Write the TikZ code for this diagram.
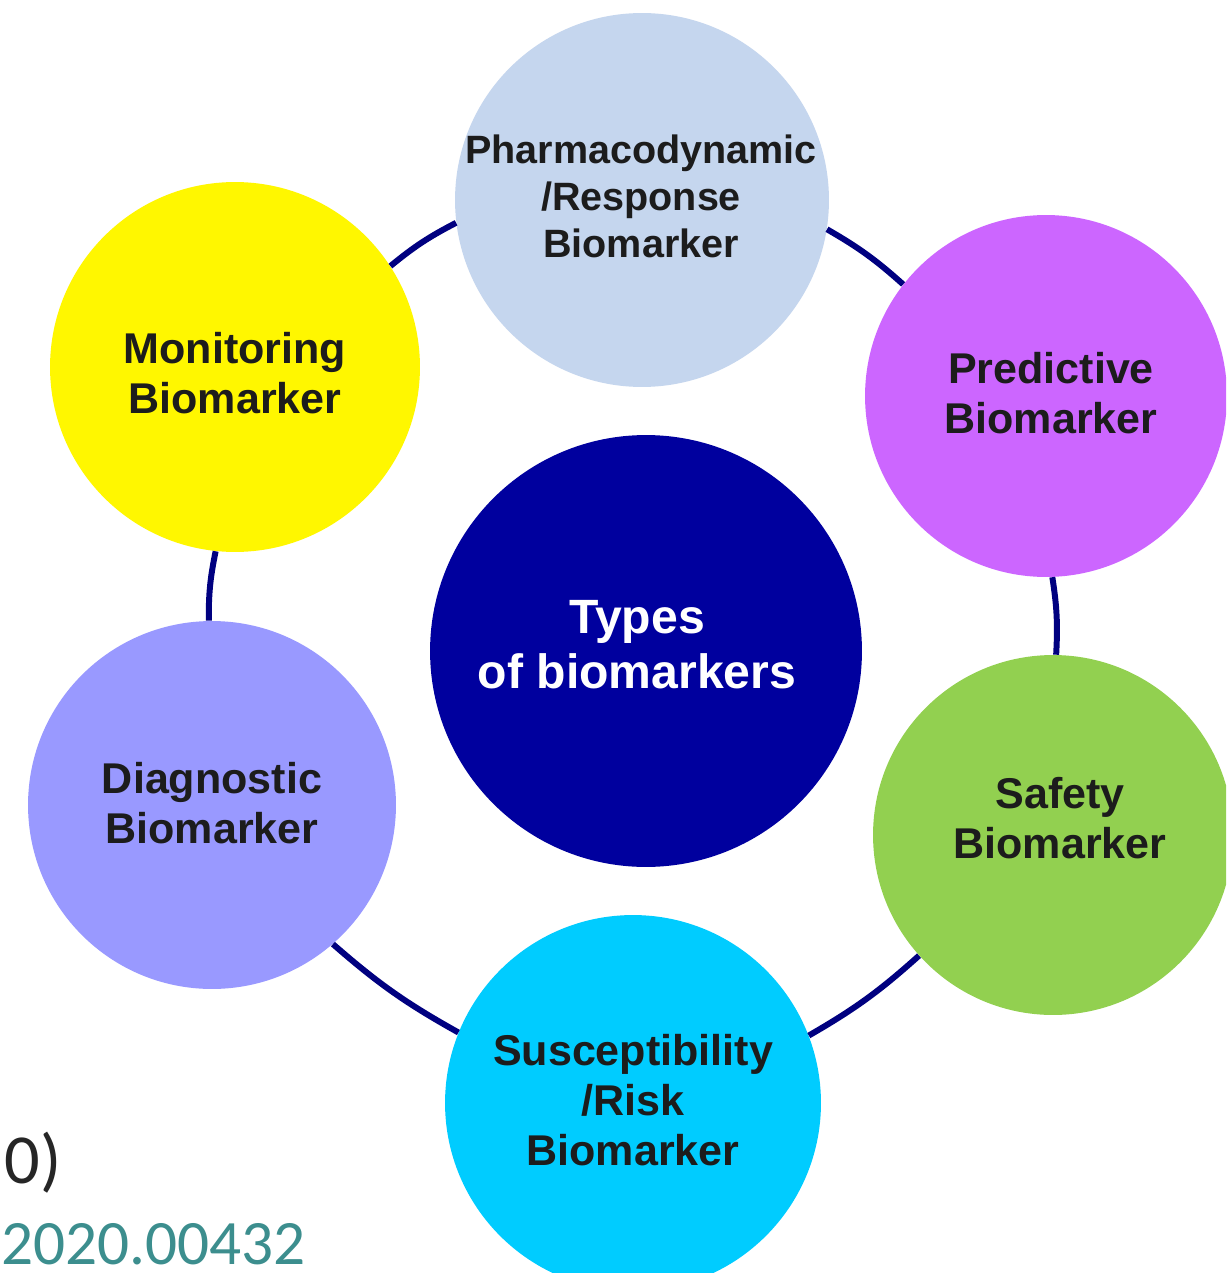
\documentclass[tikz,border=0pt]{standalone}
\usepackage{fontspec}
\setmainfont{Liberation Sans}
\newfontfamily\slidefont{Carlito}
\definecolor{txt}{HTML}{1C1C1C}
\definecolor{ringc}{HTML}{000080}
\definecolor{pharmac}{HTML}{C5D6EE}
\definecolor{monic}{HTML}{FFF700}
\definecolor{predc}{HTML}{CC66FF}
\definecolor{safec}{HTML}{92D050}
\definecolor{suscc}{HTML}{00CCFF}
\definecolor{diagc}{HTML}{9999FF}
\definecolor{centc}{HTML}{00009E}
\definecolor{tealc}{HTML}{3C8E8E}
\definecolor{darkc}{HTML}{262626}
\begin{document}
\begin{tikzpicture}[x=0.02cm,y=-0.02cm,
  bub/.style={circle, minimum size=#1, inner sep=0pt},
  lab/.style={inner sep=0pt, align=center,
    font=\fontsize{24.5}{28.5}\selectfont\bfseries, text=txt},
  link/.style={draw=ringc, line width=3.4pt, bend left=6}]
\useasboundingbox (0,0) rectangle (1226,1273);
\clip (0,0) rectangle (1226,1273);
\fill[white] (0,0) rectangle (1226,1273);
% outer bubbles
\node[bub=7.48cm, fill=pharmac] (pha) at (642,200) {};
\node[bub=7.40cm, fill=monic] (mon) at (235,367) {};
\node[bub=7.24cm, fill=predc] (pre) at (1046,396) {};
\node[bub=7.20cm, fill=safec] (saf) at (1053,835) {};
\node[bub=7.52cm, fill=suscc] (sus) at (633,1103) {};
\node[bub=7.36cm, fill=diagc] (dia) at (212,805) {};
\node[bub=8.64cm, fill=centc] (cen) at (646,651) {};
% labels
\node[lab, font=\fontsize{22.5}{26.7}\selectfont\bfseries] (phat) at (641,196) {Pharmacodynamic\\/Response\\Biomarker};
\node[lab] (mont) at (235,373) {Monitoring\\Biomarker};
\node[lab] (pret) at (1051,393) {Predictive\\Biomarker};
\node[lab] (saft) at (1060,818) {Safety\\Biomarker};
\node[lab] (sust) at (633,1100) {Susceptibility\\/Risk\\Biomarker};
\node[lab] (diat) at (212,803) {Diagnostic\\Biomarker};
\node[lab, text=white, font=\fontsize{27.4}{31.3}\selectfont\bfseries] (cent) at (637,645) {Types\\of biomarkers};
% connectors
\draw[link] (mon.33.6) to (pha.187.6);
\draw[link] (pha.-9.8) to (pre.142.9);
\draw[link] (pre.-88) to (saf.89.4);
\draw[link] (saf.-138) to (sus.21.4);
\draw[link] (sus.158.7) to (dia.-49.2);
\draw[link] (dia.91.3) to (mon.264.7);
% cropped slide text
\node[anchor=base east, inner sep=0pt, text=darkc, font=\slidefont\fontsize{40}{46}\selectfont] (paren) at (62,1183) {0)};
\node[anchor=base east, inner sep=0pt, text=tealc, font=\slidefont\fontsize{36}{42}\selectfont] (doi) at (306,1264) {2020.00432};
\end{tikzpicture}
\end{document}
